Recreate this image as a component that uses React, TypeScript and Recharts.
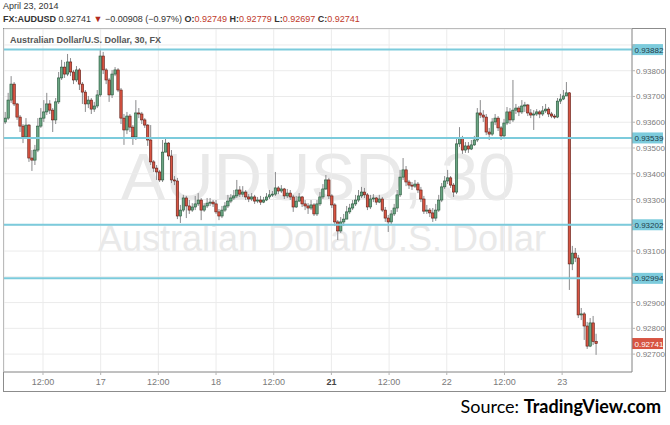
import React from "react";
import { ComposedChart, Bar, XAxis, YAxis, CartesianGrid, ReferenceLine } from "recharts";

// AUDUSD 30-minute candles (open = previous close)
const firstOpen = 0.93601;

const closes = [
  0.93616, 0.93686, 0.93748, 0.93671, 0.9362, 0.93585, 0.93543, 0.93589, 0.93461, 0.93453,
  0.93492, 0.93585, 0.93616, 0.9364, 0.93671, 0.93647, 0.93609, 0.93679, 0.93772, 0.93814,
  0.93787, 0.93834, 0.93795, 0.93764, 0.93803, 0.93748, 0.93717, 0.93671, 0.93686, 0.93651,
  0.93663, 0.93706, 0.93857, 0.93803, 0.93764, 0.93706, 0.93787, 0.93803, 0.93725, 0.93616,
  0.9357, 0.93624, 0.93581, 0.93543, 0.93636, 0.93632, 0.93609, 0.93589, 0.93531, 0.93446,
  0.93422, 0.93407, 0.93376, 0.93484, 0.93519, 0.93469, 0.93376, 0.93372, 0.93236, 0.93259,
  0.93306, 0.93275, 0.93259, 0.93271, 0.93283, 0.93298, 0.93259, 0.93275, 0.93286, 0.9329,
  0.93283, 0.93252, 0.93236, 0.93259, 0.93275, 0.93294, 0.93306, 0.93314, 0.93337, 0.93321,
  0.93329, 0.9331, 0.93302, 0.9331, 0.93294, 0.93298, 0.9329, 0.93298, 0.9331, 0.93318,
  0.93321, 0.93345, 0.93333, 0.93341, 0.93314, 0.93325, 0.9331, 0.93271, 0.93294, 0.9331,
  0.93283, 0.93275, 0.93267, 0.93279, 0.93244, 0.93283, 0.9331, 0.93341, 0.93376, 0.93314,
  0.93279, 0.93213, 0.93178, 0.93213, 0.93224, 0.93252, 0.93267, 0.93283, 0.93298, 0.93314,
  0.93329, 0.93318, 0.93271, 0.93302, 0.93306, 0.9329, 0.93302, 0.93259, 0.93228, 0.93213,
  0.93244, 0.93267, 0.93318, 0.93387, 0.93415, 0.93368, 0.93356, 0.93352, 0.9336, 0.93337,
  0.93302, 0.93255, 0.93259, 0.93248, 0.93228, 0.93259, 0.93298, 0.93349, 0.93372, 0.93384,
  0.93356, 0.93329, 0.93516, 0.93539, 0.93492, 0.93508, 0.93496, 0.93512, 0.93531, 0.93636,
  0.93628, 0.9362, 0.93562, 0.93554, 0.93601, 0.93616, 0.93578, 0.93547, 0.93597, 0.9364,
  0.93609, 0.93647, 0.93655, 0.9364, 0.93663, 0.93667, 0.93636, 0.93628, 0.93632, 0.9364,
  0.93632, 0.93644, 0.93651, 0.93632, 0.93624, 0.9362, 0.93682, 0.9369, 0.93702, 0.93714,
  0.9305, 0.93092, 0.93073, 0.92852, 0.92856, 0.92809, 0.92731, 0.92821, 0.92749, 0.92741,
];

const highs = [
  0.9364, 0.93714, 0.93779, 0.93756, 0.93675, 0.93628, 0.93593, 0.93616, 0.93593, 0.93492,
  0.93512, 0.93616, 0.93655, 0.93686, 0.93714, 0.93686, 0.93655, 0.93694, 0.93795, 0.93842,
  0.93834, 0.93865, 0.93849, 0.93803, 0.93818, 0.9381, 0.93756, 0.93725, 0.93702, 0.93694,
  0.93679, 0.93725, 0.9388, 0.93873, 0.9381, 0.93772, 0.93803, 0.93814, 0.9381, 0.93733,
  0.93632, 0.9364, 0.93632, 0.93589, 0.93686, 0.93655, 0.9364, 0.93616, 0.93593, 0.93589,
  0.93453, 0.93434, 0.93415, 0.93531, 0.93539, 0.93523, 0.93492, 0.93391, 0.93384, 0.93279,
  0.93318, 0.93314, 0.93298, 0.93286, 0.93314, 0.93325, 0.93306, 0.93286, 0.93306, 0.93306,
  0.93298, 0.93298, 0.93263, 0.93275, 0.9329, 0.93318, 0.93321, 0.93337, 0.93376, 0.93352,
  0.93352, 0.93337, 0.93321, 0.93325, 0.93318, 0.9331, 0.93314, 0.9331, 0.93325, 0.93337,
  0.93333, 0.93407, 0.93352, 0.93356, 0.93345, 0.93341, 0.93337, 0.93318, 0.93314, 0.93325,
  0.93314, 0.93298, 0.93286, 0.93298, 0.93286, 0.93298, 0.93329, 0.9336, 0.93395, 0.93384,
  0.93321, 0.93286, 0.9322, 0.93232, 0.93244, 0.93275, 0.93283, 0.93298, 0.93318, 0.93337,
  0.93349, 0.93345, 0.93325, 0.93318, 0.93321, 0.9331, 0.93318, 0.9331, 0.93271, 0.9324,
  0.93259, 0.93283, 0.93337, 0.93415, 0.93461, 0.9343, 0.93376, 0.93368, 0.93376, 0.93368,
  0.93349, 0.93314, 0.93279, 0.93267, 0.93267, 0.93283, 0.93318, 0.93364, 0.93391, 0.93415,
  0.93391, 0.93364, 0.93539, 0.93581, 0.93547, 0.93523, 0.93523, 0.93531, 0.93547, 0.93655,
  0.93686, 0.93647, 0.93632, 0.93578, 0.93616, 0.93632, 0.93624, 0.93585, 0.93613, 0.93659,
  0.93655, 0.93764, 0.93671, 0.93663, 0.93686, 0.93679, 0.93671, 0.93651, 0.93647, 0.93651,
  0.93647, 0.93663, 0.93671, 0.93659, 0.9364, 0.93632, 0.93694, 0.9371, 0.93725, 0.93756,
  0.93717, 0.9312, 0.93112, 0.93085, 0.92879, 0.92863, 0.92825, 0.9284, 0.92848, 0.92779,
];

const lows = [
  0.93593, 0.93609, 0.93675, 0.93663, 0.93609, 0.93562, 0.93519, 0.93535, 0.93446, 0.93411,
  0.93434, 0.93484, 0.93578, 0.93601, 0.93628, 0.93632, 0.93562, 0.93593, 0.93671, 0.93764,
  0.93772, 0.93779, 0.93779, 0.93748, 0.93756, 0.93725, 0.93671, 0.9364, 0.93655, 0.93632,
  0.9364, 0.93655, 0.93698, 0.93787, 0.93748, 0.93679, 0.93694, 0.93779, 0.93717, 0.93593,
  0.93512, 0.93554, 0.93562, 0.93512, 0.93531, 0.93616, 0.93593, 0.93578, 0.93508, 0.93434,
  0.93407, 0.93376, 0.93368, 0.93368, 0.93484, 0.93453, 0.93364, 0.93356, 0.93224, 0.93209,
  0.93252, 0.93228, 0.93244, 0.93252, 0.93259, 0.93275, 0.9322, 0.93252, 0.93267, 0.93275,
  0.93271, 0.93244, 0.9322, 0.93228, 0.93252, 0.93267, 0.93286, 0.93298, 0.93306, 0.9331,
  0.9331, 0.93298, 0.9329, 0.93294, 0.93283, 0.93286, 0.93279, 0.93286, 0.93294, 0.93302,
  0.9331, 0.93314, 0.93321, 0.93325, 0.93302, 0.93306, 0.93298, 0.93252, 0.93267, 0.9329,
  0.93271, 0.93259, 0.93244, 0.93259, 0.93236, 0.93236, 0.93275, 0.93302, 0.93337, 0.93302,
  0.93267, 0.93197, 0.93143, 0.9317, 0.93197, 0.93228, 0.93244, 0.93259, 0.93275, 0.9329,
  0.93306, 0.93306, 0.93259, 0.93263, 0.9329, 0.93279, 0.93286, 0.93252, 0.93213, 0.93174,
  0.93205, 0.93236, 0.93252, 0.9331, 0.93376, 0.93352, 0.93341, 0.93337, 0.93345, 0.93325,
  0.9329, 0.93244, 0.93244, 0.93232, 0.93213, 0.93217, 0.93252, 0.9329, 0.93341, 0.9336,
  0.93345, 0.9331, 0.93321, 0.93504, 0.93477, 0.93481, 0.93481, 0.93492, 0.93508, 0.93523,
  0.93616, 0.93601, 0.9355, 0.93531, 0.93547, 0.93589, 0.93566, 0.93531, 0.93539, 0.93589,
  0.93593, 0.93601, 0.93632, 0.93624, 0.93632, 0.9364, 0.93624, 0.93616, 0.9357, 0.93624,
  0.93616, 0.93624, 0.93636, 0.9362, 0.93616, 0.93613, 0.93616, 0.93671, 0.93686, 0.93702,
  0.92949, 0.93026, 0.93057, 0.9284, 0.92832, 0.92755, 0.9272, 0.92727, 0.92735, 0.92697,
];

// time axis: candle index where each label sits
const timeTicks = [12.63, 32.06, 51.48, 70.91, 90.34, 109.76, 129.19, 148.62, 168.05, 187.47];
const timeLabels = ["12:00", "17", "12:00", "18", "12:00", "21", "12:00", "22", "12:00", "23"];

const priceTicks = [0.927, 0.928, 0.929, 0.93, 0.931, 0.932, 0.933, 0.934, 0.935, 0.936, 0.937, 0.938, 0.939];
const levels = [0.93882, 0.93539, 0.93202, 0.92994];
const lastPrice = 0.92741;

const FONT = "'Liberation Sans', Arial, sans-serif";

const candles = closes.map((c, i) => {
  const o = i === 0 ? firstOpen : closes[i - 1];
  const h = Math.max(highs[i], o, c);
  const l = Math.min(lows[i], o, c);
  return { i, o, h, l, c, range: [l, h] };
});

function Candle(props: any) {
  const { x, y, width, height, payload } = props;
  const top = Math.min(y, y + height);
  const span = Math.abs(height);
  const k = span / (payload.h - payload.l || 1);
  const cx = x + width / 2;
  const yO = top + (payload.h - payload.o) * k;
  const yC = top + (payload.h - payload.c) * k;
  const up = payload.c >= payload.o;
  const bTop = Math.min(yO, yC);
  const bH = Math.max(1, Math.abs(yO - yC));
  return (
    <g>
      <line x1={cx} x2={cx} y1={top} y2={top + span} stroke="#8a8a8c" strokeWidth={1} />
      <rect
        x={cx - 1.2} y={bTop} width={2.4} height={bH}
        fill={up ? "#6ba583" : "#d75442"}
        stroke={up ? "#225437" : "#5b1a13"} strokeWidth={0.6}
      />
    </g>
  );
}

function TimeTick({ x, y, payload }: any) {
  const label = timeLabels[timeTicks.indexOf(payload.value)];
  return (
    <text x={x} y={y + 8} textAnchor="middle" fontSize={9} fontFamily={FONT}
      fill={label === "21" ? "#444" : "#7a7a7a"} fontWeight={label === "21" ? "bold" : "normal"}>
      {label}
    </text>
  );
}

// price labels that sit under a level tag are hidden, as on the reference
function PriceTick({ x, y, payload }: any) {
  const hidden = levels.some((lv) => Math.abs(lv - payload.value) < 0.00025);
  if (hidden) return null;
  return (
    <text x={x} y={y + 3} fontSize={8} fontFamily={FONT} fill="#7a7a7a">
      {Number(payload.value).toFixed(5)}
    </text>
  );
}

const priceTag = (bg: string, fg: string, value: number) => (props: any) => {
  const { viewBox } = props;
  const x = viewBox.x + viewBox.width;
  const y = viewBox.y;
  return (
    <g>
      <rect x={x} y={y - 5.5} width={31} height={11} fill={bg} />
      <text x={x + 2.5} y={y + 3} fontSize={8} fontFamily={FONT} fill={fg}>
        {value.toFixed(5)}
      </text>
    </g>
  );
};

export default function App() {
  return (
    <div style={{ position: "absolute", left: 0, top: 0, width: 670, height: 425, background: "#fff", fontFamily: FONT, overflow: "hidden" }}>
      <div style={{ position: "absolute", left: 3, top: 1, fontSize: 9, color: "#333" }}>April 23, 2014</div>
      <div style={{ position: "absolute", left: 3, top: 14, fontSize: 9, color: "#333", whiteSpace: "nowrap" }}>
        <b>FX:AUDUSD</b> 0.92741 <span style={{ color: "#b22a1e" }}>▼</span> −0.00908 (−0.97%){" "}
        <b>O:</b><span style={{ color: "#c0392b" }}>0.92749</span>{" "}
        <b>H:</b><span style={{ color: "#c0392b" }}>0.92779</span>{" "}
        <b>L:</b><span style={{ color: "#c0392b" }}>0.92697</span>{" "}
        <b>C:</b><span style={{ color: "#c0392b" }}>0.92741</span>
      </div>

      {/* chart frame */}
      <div style={{ position: "absolute", left: 3, top: 28, width: 663, height: 364, border: "1px solid #8c8c8c", boxSizing: "border-box" }} />

      {/* watermark */}
      <div style={{ position: "absolute", left: 4, width: 628, top: 137, textAlign: "center", fontSize: 67, lineHeight: "80px", color: "#e9e9e9", whiteSpace: "nowrap" }}>
        AUDUSD, 30
      </div>
      <div style={{ position: "absolute", left: 4, width: 636, top: 219, textAlign: "center", fontSize: 36, lineHeight: "40px", color: "#e9e9e9", whiteSpace: "nowrap" }}>
        Australian Dollar/U.S. Dollar
      </div>

      <div style={{ position: "absolute", left: 0, top: 0 }}>
        <ComposedChart width={670} height={425} data={candles} margin={{ top: 29, right: 5, bottom: 34, left: 4 }}>
          <CartesianGrid stroke="#ebebeb" />
          <XAxis
            dataKey="i" type="number" domain={[-0.5, 211]} allowDataOverflow
            ticks={timeTicks} interval={0} tick={<TimeTick />} height={19}
            tickSize={3} axisLine={{ stroke: "#8c8c8c" }} tickLine={{ stroke: "#b5b5b5" }}
          />
          <YAxis
            orientation="right" domain={[0.926305, 0.939619]} allowDataOverflow
            ticks={priceTicks} interval={0} width={33} tickSize={3} tickMargin={1}
            tick={<PriceTick />}
            axisLine={{ stroke: "#8c8c8c" }} tickLine={{ stroke: "#b5b5b5" }}
          />
          <Bar dataKey="range" shape={<Candle />} barSize={2.4} isAnimationActive={false} />
          {levels.map((lv) => (
            <ReferenceLine key={lv} y={lv} stroke="#7ccbdc" strokeWidth={2}
              label={{ content: priceTag("#7ccbdc", "#1f3c48", lv) }} />
          ))}
          <ReferenceLine y={lastPrice} stroke="none"
            label={{ content: priceTag("#d75442", "#fff", lastPrice) }} />
        </ComposedChart>
      </div>

      <div style={{ position: "absolute", left: 10, top: 35, fontSize: 9, fontWeight: "bold", color: "#555" }}>
        Australian Dollar/U.S. Dollar, 30, FX
      </div>

      <div style={{ position: "absolute", right: 9, top: 395, fontSize: 18, fontFamily: "Lato, sans-serif", color: "#000", whiteSpace: "nowrap" }}>
        Source: <b>TradingView.com</b>
      </div>
    </div>
  );
}
